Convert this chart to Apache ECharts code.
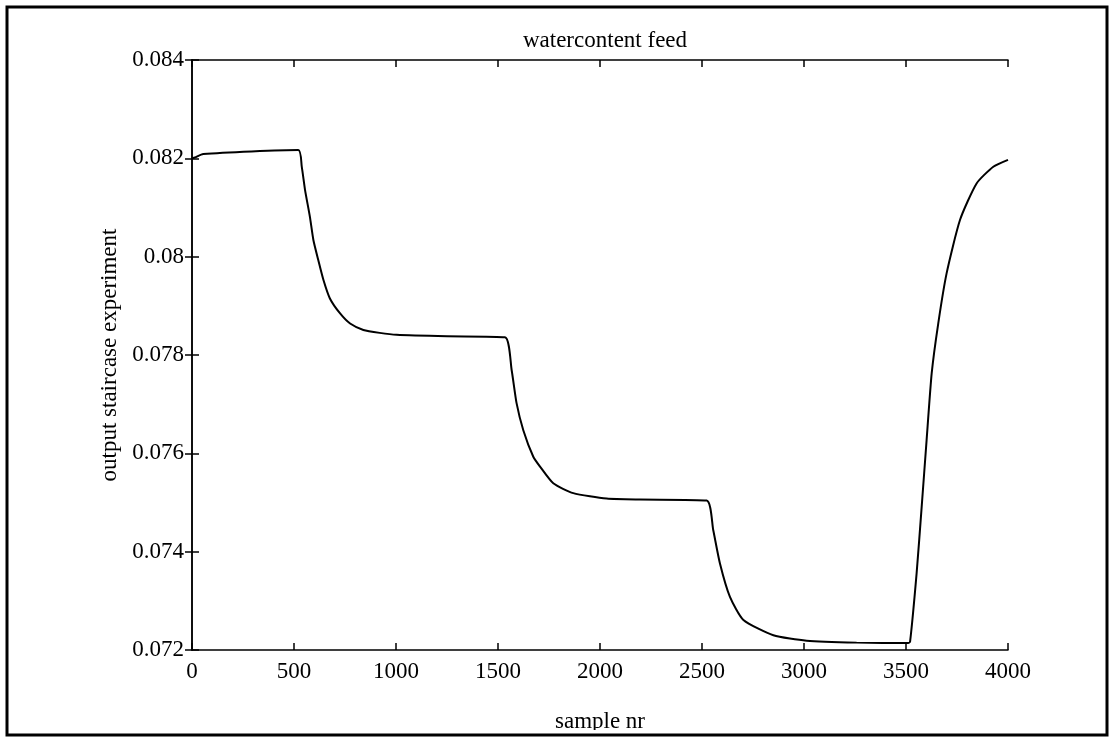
<!DOCTYPE html>
<html lang="en">
<head>
    <meta charset="UTF-8">
    <title>watercontent feed</title>
    <script src="https://cdn.jsdelivr.net/npm/echarts@6/dist/echarts.min.js"></script>
    <style>
        * { padding: 0; margin: 0; }
        html, body { width: 1115px; height: 737px; background: #fff; }
        #chart { width: 1115px; height: 737px; }
    </style>
</head>
<body>
    <div id="chart"></div>
</body>
<script>
    // values
    var sampleNr = [0, 15, 55, 521, 538, 554, 578, 595, 619, 644, 676, 725, 775, 840, 920, 1003, 1250, 1534,
        1567, 1591, 1624, 1673, 1706, 1771, 1869, 2033, 2196, 2523,
        2555, 2588, 2637, 2703, 2850, 3013, 3258, 3511,
        3520, 3552, 3577, 3601, 3626, 3658, 3699, 3765, 3846, 3928, 4000];
    var outputVal = [0.08200, 0.08202, 0.08209, 0.08217, 0.08183, 0.08136, 0.08081, 0.08034, 0.07993, 0.07953, 0.07915, 0.07885, 0.07864, 0.07851, 0.07845, 0.07841, 0.07838, 0.07836,
        0.07769, 0.07702, 0.07647, 0.07593, 0.07573, 0.07539, 0.07519, 0.07508, 0.07506, 0.07504,
        0.07444, 0.07376, 0.07308, 0.07261, 0.07230, 0.07219, 0.07215, 0.07214,
        0.07217, 0.07356, 0.07492, 0.07627, 0.07763, 0.07864, 0.07966, 0.08075, 0.08149, 0.08183, 0.08197];
    var yTicks = ['0.072', '0.074', '0.076', '0.078', '0.08', '0.082', '0.084'];

    var chart = echarts.init(document.getElementById('chart'));
    var font = '"Liberation Serif", "DejaVu Serif", serif';
    var axisLine = { show: true, lineStyle: { color: '#000', width: 1.5 } };
    var tick = { show: true, inside: true, length: 7, lineStyle: { color: '#000', width: 1.5 } };

    var option = {
        backgroundColor: '#fff',
        animation: false,
        title: {
            text: 'watercontent feed',
            left: 600,
            top: 24,
            textAlign: 'center',
            textStyle: { fontFamily: font, fontSize: 23, fontWeight: 'normal', color: '#000' }
        },
        grid: { left: 192, right: 107, top: 60, bottom: 87, containLabel: false, outerBoundsMode: 'none' },
        xAxis: [{
            type: 'value', min: 0, max: 4000, interval: 500,
            name: 'sample nr', nameLocation: 'middle', nameGap: 60,
            nameTextStyle: { fontFamily: font, fontSize: 23, color: '#000' },
            axisLine: axisLine, axisTick: tick, splitLine: { show: false },
            axisLabel: {
                margin: 10, fontFamily: font, fontSize: 23, color: '#000',
                formatter: function (v) { return String(v); }
            }
        }, {
            type: 'value', min: 0, max: 4000, interval: 500, position: 'top',
            axisLine: axisLine, axisTick: tick, axisLabel: { show: false }, splitLine: { show: false }
        }],
        yAxis: [{
            type: 'value', min: 0.072, max: 0.084, interval: 0.002,
            name: 'output staircase experiment', nameLocation: 'middle', nameGap: 68,
            nameTextStyle: { fontFamily: font, fontSize: 23, color: '#000' },
            axisLine: axisLine, axisTick: tick, splitLine: { show: false },
            axisLabel: {
                margin: 8, fontFamily: font, fontSize: 23, color: '#000',
                formatter: function (v) { return yTicks[Math.round((v - 0.072) / 0.002)]; }
            }
        }, {
            type: 'value', min: 0.072, max: 0.084, interval: 0.002, position: 'right',
            axisLine: axisLine, axisTick: tick, axisLabel: { show: false }, splitLine: { show: false }
        }],
        series: [{
            type: 'line',
            data: sampleNr.map(function (x, i) { return [x, outputVal[i]]; }),
            showSymbol: false,
            smooth: 0.2,
            lineStyle: { color: '#000', width: 2 }
        }],
        graphic: [{
            type: 'rect', z: 100,
            shape: { x: 0, y: 730, width: 1115, height: 7 },
            style: { fill: '#fff' }
        }, {
            type: 'rect', z: 101,
            shape: { x: 7, y: 7, width: 1100, height: 728 },
            style: { fill: 'none', stroke: '#000', lineWidth: 3 }
        }]
    };
    chart.setOption(option);
</script>
</html>
